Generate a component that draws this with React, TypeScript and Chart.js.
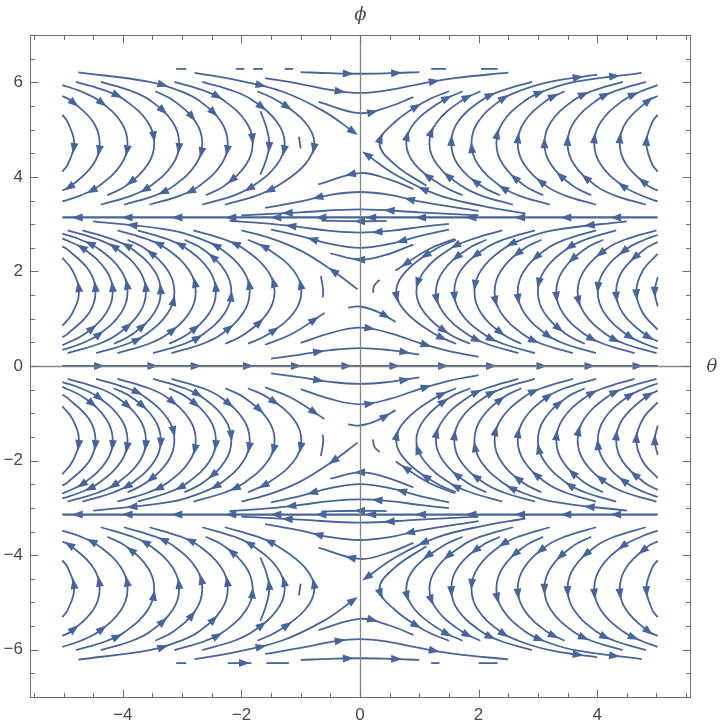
import React, { useEffect, useRef } from "react";
import { Chart, registerables } from "chart.js";
Chart.register(...registerables);

type Pt = [number, number];
type Stream = { p: Pt[]; a: number[]; w?: number };

const xRange = [-5.565, 5.565];
const yRange = [-7, 7];
const xTicks = [-4, -2, 0, 2, 4];
const yTicks = [-6, -4, -2, 0, 2, 4, 6];
const axisLabels = { x: "θ", y: "ϕ" };
const COLOR = "rgb(72,100,152)";

// ---- band pi..2pi, theta > 0 (flow upward) ----
const bandAR: Stream[] = [
  { p: [[1.12,3.81],[0.59,4.26],[0.33,4.71],[0.59,5.16],[1.12,5.61],[1.5,5.81]], a: [2.2,3.7] },
  { p: [[1.73,3.61],[1.39,3.81],[0.93,4.26],[0.78,4.71],[0.93,5.16],[1.39,5.61],[1.73,5.81]], a: [1.5,3.3,5.2] },
  { p: [[2.58,3.41],[2.03,3.61],[1.71,3.81],[1.3,4.26],[1.17,4.71],[1.3,5.16],[1.71,5.61],[2.03,5.81]], a: [2.5,4.5,6.3] },
  { p: [[2.36,3.61],[2.04,3.81],[1.65,4.26],[1.54,4.71],[1.65,5.16],[2.04,5.61],[2.36,5.81],[2.9,6.01]], a: [1.2,3.1,5.5] },
  { p: [[3.2,3.41],[2.67,3.61],[2.36,3.81],[1.99,4.26],[1.88,4.71],[1.99,5.16],[2.36,5.61],[2.67,5.81],[3.2,6.01],[4.0,6.16]], a: [1.8,3.8,6.2,8.6] },
  { p: [[3.09,3.61],[2.78,3.81],[2.41,4.26],[2.3,4.71],[2.41,5.16],[2.78,5.61],[3.09,5.81],[3.62,6.01],[4.75,6.2]], a: [1.4,3.4,5.8,7.6] },
  { p: [[3.98,3.41],[3.45,3.61],[3.14,3.81],[2.77,4.26],[2.66,4.71],[2.77,5.16],[3.14,5.61],[3.45,5.81]], a: [2.2,4.2,6.4] },
  { p: [[3.9,3.61],[3.59,3.81],[3.22,4.26],[3.11,4.71],[3.22,5.16],[3.59,5.61],[3.9,5.81],[4.43,6.01]], a: [1.5,3.0,5.6] },
  { p: [[4.82,3.41],[4.29,3.61],[3.98,3.81],[3.61,4.26],[3.5,4.71],[3.61,5.16],[3.98,5.61],[4.29,5.81],[4.82,6.01]], a: [2.4,4.1,6.5] },
  { p: [[5.02,3.48],[4.74,3.61],[4.43,3.81],[4.06,4.26],[3.95,4.71],[4.06,5.16],[4.43,5.61],[4.74,5.81],[5.02,5.94]], a: [2.0,4.2,6.6] },
  { p: [[5.02,3.71],[4.86,3.81],[4.49,4.26],[4.38,4.71],[4.49,5.16],[4.86,5.61],[5.02,5.71]], a: [1.2,3.2,5.0] },
  { p: [[5.02,4.11],[4.93,4.26],[4.83,4.71],[4.93,5.16],[5.02,5.31]], a: [2.1] },
];

// ---- band pi..2pi, theta < 0 (flow downward) ----
const bandAL: Stream[] = [
  { p: [[-1.73,5.81],[-1.39,5.61],[-0.93,5.16],[-0.77,4.71],[-0.93,4.26],[-1.39,3.81],[-1.73,3.61],[-2.28,3.41]], a: [1.3,3.2,5.4] },
  { p: [[-2.66,6.01],[-2.12,5.81],[-1.8,5.61],[-1.4,5.16],[-1.27,4.71],[-1.4,4.26],[-1.8,3.81],[-2.12,3.61],[-2.66,3.41]], a: [2.3,4.3,6.2] },
  { p: [[-1.68,5.39],[-1.58,5.05],[-1.53,4.71],[-1.58,4.37],[-1.68,4.05]], a: [2.2] },
  { p: [[-3.13,6.01],[-2.6,5.81],[-2.29,5.61],[-1.92,5.16],[-1.81,4.71],[-1.92,4.26],[-2.29,3.81],[-2.6,3.61]], a: [1.6,3.8,5.7] },
  { p: [[-4.75,6.21],[-3.55,6.01],[-3.02,5.81],[-2.71,5.61],[-2.34,5.16],[-2.23,4.71],[-2.34,4.26],[-2.71,3.81],[-3.02,3.61],[-3.55,3.41]], a: [1.4,3.6,5.3,7.5] },
  { p: [[-3.45,5.81],[-3.14,5.61],[-2.77,5.16],[-2.66,4.71],[-2.77,4.26],[-3.14,3.81],[-3.45,3.61],[-3.98,3.41]], a: [1.8,3.4,5.6] },
  { p: [[-4.37,6.01],[-3.84,5.81],[-3.53,5.61],[-3.16,5.16],[-3.05,4.71],[-3.16,4.26],[-3.53,3.81],[-3.84,3.61],[-4.37,3.41]], a: [2.5,4.2,6.3] },
  { p: [[-4.79,6.01],[-4.26,5.81],[-3.95,5.61],[-3.58,5.16],[-3.47,4.71],[-3.58,4.26],[-3.95,3.81],[-4.26,3.61]], a: [1.5,3.7,5.8] },
  { p: [[-5.02,5.94],[-4.71,5.81],[-4.4,5.61],[-4.03,5.16],[-3.92,4.71],[-4.03,4.26],[-4.4,3.81],[-4.71,3.61],[-5.02,3.48]], a: [2.1,4.3,6.4] },
  { p: [[-5.02,5.71],[-4.87,5.61],[-4.5,5.16],[-4.39,4.71],[-4.5,4.26],[-4.87,3.81],[-5.02,3.71]], a: [1.1,3.3,5.2] },
  { p: [[-5.02,5.31],[-4.93,5.16],[-4.82,4.71],[-4.93,4.26],[-5.02,4.11]], a: [2.2] },
  { p: [[-1.03,4.85],[-1.0,4.6]], a: [] },
];

// ---- band pi..2pi, streams crossing theta = 0 ----
const bandAX: Stream[] = [
  { p: [[-1.0,6.216],[-0.5,6.192],[0,6.18],[0.5,6.192],[1.0,6.216]], a: [1.6,3.2] },
  { p: [[-1.6,6.09],[-1.0,5.963],[-0.5,5.838],[0,5.776],[0.5,5.838],[1.0,5.963],[1.6,6.09],[2.5,6.204]], a: [2.3,5.4] },
  { p: [[-0.7,5.587],[0,5.347],[0.5,5.488],[0.9,5.687]], a: [1.4] },
  { p: [[-2.79,6.2],[-2.06,6.04],[-1.3,5.8],[-0.6,5.38],[-0.12,4.96]], a: [1.5,4] },
  { p: [[0.9,3.741],[0.5,3.94],[0,4.08],[-0.7,3.841]], a: [2.2] },
  { p: [[2.0,3.28],[1.0,3.48],[0.5,3.62],[0,3.68],[-0.5,3.62],[-1.0,3.48],[-1.6,3.343]], a: [1.3,4.4] },
  { p: [[2.0,3.186],[1.0,3.251],[0,3.311],[-1.0,3.251],[-2.0,3.186]], a: [1.5,3.2] },
  { p: [[2.79,3.225],[2.06,3.385],[1.3,3.625],[0.6,4.045],[0.12,4.465]], a: [2.3,4] },
  { p: [[-3.1,6.283],[-2.93,6.283]], a: [] },
  { p: [[-2.09,6.283],[-1.95,6.283]], a: [] },
  { p: [[-1.8,6.283],[-1.64,6.283]], a: [] },
  { p: [[-1.27,6.283],[-1.13,6.283]], a: [] },
  { p: [[1.2,6.283],[1.45,6.283]], a: [] },
  { p: [[2.04,6.283],[2.32,6.283]], a: [] },
];

// ---- band 0..pi, theta > 0 (flow downward) ----
const bandBR: Stream[] = [
  { p: [[1.62,2.67],[1.27,2.47],[0.79,2.02],[0.61,1.57],[0.79,1.12],[1.27,0.67],[1.62,0.47]], a: [1.3,3.2,5.3] },
  { p: [[2.4,2.87],[1.86,2.67],[1.51,2.47],[1.09,2.02],[0.95,1.57],[1.09,1.12],[1.51,0.67],[1.86,0.47]], a: [1.7,3.6,5.8] },
  { p: [[2.13,2.67],[1.81,2.47],[1.41,2.02],[1.28,1.57],[1.41,1.12],[1.81,0.67],[2.13,0.47],[2.67,0.27]], a: [1.4,3.3,5.5] },
  { p: [[2.95,2.87],[2.41,2.67],[2.09,2.47],[1.7,2.02],[1.59,1.57],[1.7,1.12],[2.09,0.67],[2.41,0.47],[2.95,0.27]], a: [2.3,4.2,6.4] },
  { p: [[4.5,3.06],[3.25,2.87],[2.72,2.67],[2.41,2.47],[2.04,2.02],[1.93,1.57],[2.04,1.12],[2.41,0.67],[2.72,0.47]], a: [0.5,2.5,4.7,6.9] },
  { p: [[3.06,2.67],[2.75,2.47],[2.38,2.02],[2.27,1.57],[2.38,1.12],[2.75,0.67],[3.06,0.47],[3.59,0.27]], a: [1.2,3.4,5.6] },
  { p: [[3.98,2.87],[3.45,2.67],[3.14,2.47],[2.77,2.02],[2.66,1.57],[2.77,1.12],[3.14,0.67],[3.45,0.47],[3.98,0.27]], a: [2.4,4.3,6.1] },
  { p: [[4.32,2.87],[3.79,2.67],[3.48,2.47],[3.11,2.02],[3.0,1.57],[3.11,1.12],[3.48,0.67],[3.79,0.47]], a: [1.8,3.6,5.7] },
  { p: [[4.1,2.67],[3.79,2.47],[3.42,2.02],[3.31,1.57],[3.42,1.12],[3.79,0.67],[4.1,0.47],[4.63,0.27]], a: [1.5,3.2,5.4] },
  { p: [[5.0,2.87],[4.46,2.67],[4.15,2.47],[3.78,2.02],[3.67,1.57],[3.78,1.12],[4.15,0.67],[4.46,0.47],[5.0,0.27]], a: [2.2,4.4,6.5] },
  { p: [[5.02,2.77],[4.8,2.67],[4.49,2.47],[4.12,2.02],[4.01,1.57],[4.12,1.12],[4.49,0.67],[4.8,0.47],[5.02,0.37]], a: [2.1,3.8,6.2] },
  { p: [[5.02,2.62],[4.8,2.47],[4.43,2.02],[4.32,1.57],[4.43,1.12],[4.8,0.67],[5.02,0.52]], a: [1.4,3.2,5.3] },
  { p: [[5.02,2.37],[4.77,2.02],[4.66,1.57],[4.77,1.12],[5.02,0.77]], a: [2.1] },
  { p: [[5.02,1.88],[4.97,1.57],[5.02,1.26]], a: [1] },
  { p: [[0.33,1.82],[0.24,1.7],[0.22,1.55]], a: [] },
];

// ---- band 0..pi, theta < 0 (flow upward) ----
const bandBL: Stream[] = [
  { p: [[-1.89,0.47],[-1.55,0.67],[-1.12,1.12],[-0.99,1.57],[-1.12,2.02],[-1.55,2.47],[-1.89,2.67]], a: [1.2,3.3,5.2] },
  { p: [[-2.27,0.47],[-1.95,0.67],[-1.56,1.12],[-1.44,1.57],[-1.56,2.02],[-1.95,2.47],[-2.27,2.67],[-2.81,2.87]], a: [1.6,3.4,5.5] },
  { p: [[-3.18,0.27],[-2.65,0.47],[-2.34,0.67],[-1.97,1.12],[-1.86,1.57],[-1.97,2.02],[-2.34,2.47],[-2.65,2.67],[-3.18,2.87],[-4.5,3.06]], a: [2.3,4.3,6.3,8.5] },
  { p: [[-3.49,0.27],[-2.96,0.47],[-2.65,0.67],[-2.28,1.12],[-2.17,1.57],[-2.28,2.02],[-2.65,2.47],[-2.96,2.67]], a: [1.7,3.8,5.6] },
  { p: [[-3.22,0.47],[-2.91,0.67],[-2.54,1.12],[-2.43,1.57],[-2.54,2.02],[-2.91,2.47],[-3.22,2.67],[-3.75,2.87]], a: [1.3,3.2,5.4] },
  { p: [[-4.09,0.27],[-3.56,0.47],[-3.25,0.67],[-2.88,1.12],[-2.77,1.57],[-2.88,2.02],[-3.25,2.47],[-3.56,2.67],[-4.09,2.87]], a: [2.2,4.4,6.5] },
  { p: [[-4.45,0.27],[-3.92,0.47],[-3.61,0.67],[-3.24,1.12],[-3.13,1.57],[-3.24,2.02],[-3.61,2.47],[-3.92,2.67]], a: [1.5,3.6,5.8] },
  { p: [[-4.15,0.47],[-3.84,0.67],[-3.47,1.12],[-3.36,1.57],[-3.47,2.02],[-3.84,2.47],[-4.15,2.67],[-4.68,2.87]], a: [1.4,3.1,5.3] },
  { p: [[-4.93,0.27],[-4.4,0.47],[-4.09,0.67],[-3.72,1.12],[-3.61,1.57],[-3.72,2.02],[-4.09,2.47],[-4.4,2.67],[-4.93,2.87]], a: [2.4,4.2,6.2] },
  { p: [[-5.02,0.34],[-4.71,0.47],[-4.4,0.67],[-4.03,1.12],[-3.92,1.57],[-4.03,2.02],[-4.4,2.47],[-4.71,2.67],[-5.02,2.8]], a: [2.0,4.3,6.5] },
  { p: [[-5.02,0.44],[-4.65,0.67],[-4.28,1.12],[-4.17,1.57],[-4.28,2.02],[-4.65,2.47],[-5.02,2.7]], a: [1.3,3.2,5.1] },
  { p: [[-5.02,0.61],[-4.94,0.67],[-4.57,1.12],[-4.46,1.57],[-4.57,2.02],[-4.94,2.47],[-5.02,2.53]], a: [3.2] },
  { p: [[-5.02,0.85],[-4.85,1.12],[-4.74,1.57],[-4.85,2.02],[-5.02,2.29]], a: [2.2] },
  { p: [[-0.63,1.45],[-0.62,1.6],[-0.66,1.9]], a: [] },
];

// ---- band 0..pi, streams crossing theta = 0 ----
const bandBX: Stream[] = [
  { p: [[0.45,3.07],[0,3.061],[-0.65,3.075]], a: [1] },
  { p: [[1.5,3.007],[1.0,2.936],[0.5,2.858],[0,2.821],[-0.5,2.858],[-1.0,2.936],[-1.5,3.007],[-2.2,3.072]], a: [2.4,5.3] },
  { p: [[1.5,2.885],[1.0,2.744],[0.5,2.583],[0,2.5],[-0.5,2.583],[-1.0,2.744],[-1.5,2.885]], a: [1.6,4.6] },
  { p: [[0.9,2.568],[0.4,2.338],[0,2.25],[-0.5,2.381]], a: [2] },
  { p: [[-0.2,1.235],[0,1.258],[0.3,1.145],[0.6,0.933]], a: [2.4] },
  { p: [[-1.0,0.4885],[-0.5,0.697],[0,0.81],[0.5,0.697],[1.0,0.4885],[1.5,0.3128],[2.0,0.1936]], a: [2.3,4.2] },
  { p: [[-1.5,0.158],[-1.0,0.2428],[-0.5,0.3353],[0,0.38],[0.5,0.3353],[1.0,0.2428]], a: [1.6,4.5] },
  { p: [[-1.6,0.45],[-1.16,0.67],[-0.6,1.12]], a: [1.7] },
  { p: [[-0.04,1.62],[-0.5,2.05],[-1.0,2.44],[-1.5,2.7],[-2.0,2.87]], a: [0.9] },
  { p: [[1.6,2.69],[1.16,2.47],[0.6,2.02]], a: [1.7] },
];

// ---- band -pi..0, theta > 0 (flow upward) ----
const bandCR: Stream[] = [
  { p: [[1.62,-2.67],[1.27,-2.47],[0.79,-2.02],[0.61,-1.57],[0.79,-1.12],[1.27,-0.67],[1.62,-0.47]], a: [1.3,3.2,5.3] },
  { p: [[2.4,-2.87],[1.86,-2.67],[1.51,-2.47],[1.09,-2.02],[0.95,-1.57],[1.09,-1.12],[1.51,-0.67],[1.86,-0.47]], a: [1.7,3.6,5.8] },
  { p: [[2.13,-2.67],[1.81,-2.47],[1.41,-2.02],[1.28,-1.57],[1.41,-1.12],[1.81,-0.67],[2.13,-0.47],[2.67,-0.27]], a: [1.4,3.3,5.5] },
  { p: [[2.95,-2.87],[2.41,-2.67],[2.09,-2.47],[1.7,-2.02],[1.59,-1.57],[1.7,-1.12],[2.09,-0.67],[2.41,-0.47],[2.95,-0.27]], a: [2.3,4.2,6.4] },
  { p: [[4.5,-3.06],[3.25,-2.87],[2.72,-2.67],[2.41,-2.47],[2.04,-2.02],[1.93,-1.57],[2.04,-1.12],[2.41,-0.67],[2.72,-0.47]], a: [0.5,2.5,4.7,6.9] },
  { p: [[3.06,-2.67],[2.75,-2.47],[2.38,-2.02],[2.27,-1.57],[2.38,-1.12],[2.75,-0.67],[3.06,-0.47],[3.59,-0.27]], a: [1.2,3.4,5.6] },
  { p: [[3.98,-2.87],[3.45,-2.67],[3.14,-2.47],[2.77,-2.02],[2.66,-1.57],[2.77,-1.12],[3.14,-0.67],[3.45,-0.47],[3.98,-0.27]], a: [2.4,4.3,6.1] },
  { p: [[4.32,-2.87],[3.79,-2.67],[3.48,-2.47],[3.11,-2.02],[3.0,-1.57],[3.11,-1.12],[3.48,-0.67],[3.79,-0.47]], a: [1.8,3.6,5.7] },
  { p: [[4.1,-2.67],[3.79,-2.47],[3.42,-2.02],[3.31,-1.57],[3.42,-1.12],[3.79,-0.67],[4.1,-0.47],[4.63,-0.27]], a: [1.5,3.2,5.4] },
  { p: [[5.0,-2.87],[4.46,-2.67],[4.15,-2.47],[3.78,-2.02],[3.67,-1.57],[3.78,-1.12],[4.15,-0.67],[4.46,-0.47],[5.0,-0.27]], a: [2.2,4.4,6.5] },
  { p: [[5.02,-2.77],[4.8,-2.67],[4.49,-2.47],[4.12,-2.02],[4.01,-1.57],[4.12,-1.12],[4.49,-0.67],[4.8,-0.47],[5.02,-0.37]], a: [2.1,3.8,6.2] },
  { p: [[5.02,-2.62],[4.8,-2.47],[4.43,-2.02],[4.32,-1.57],[4.43,-1.12],[4.8,-0.67],[5.02,-0.52]], a: [1.4,3.2,5.3] },
  { p: [[5.02,-2.37],[4.77,-2.02],[4.66,-1.57],[4.77,-1.12],[5.02,-0.77]], a: [2.1] },
  { p: [[5.02,-1.88],[4.97,-1.57],[5.02,-1.26]], a: [1] },
  { p: [[0.33,-1.82],[0.24,-1.7],[0.22,-1.55]], a: [] },
];

// ---- band -pi..0, theta < 0 (flow downward) ----
const bandCL: Stream[] = [
  { p: [[-1.89,-0.47],[-1.55,-0.67],[-1.12,-1.12],[-0.99,-1.57],[-1.12,-2.02],[-1.55,-2.47],[-1.89,-2.67]], a: [1.2,3.3,5.2] },
  { p: [[-2.27,-0.47],[-1.95,-0.67],[-1.56,-1.12],[-1.44,-1.57],[-1.56,-2.02],[-1.95,-2.47],[-2.27,-2.67],[-2.81,-2.87]], a: [1.6,3.4,5.5] },
  { p: [[-3.18,-0.27],[-2.65,-0.47],[-2.34,-0.67],[-1.97,-1.12],[-1.86,-1.57],[-1.97,-2.02],[-2.34,-2.47],[-2.65,-2.67],[-3.18,-2.87],[-4.5,-3.06]], a: [2.3,4.3,6.3,8.5] },
  { p: [[-3.49,-0.27],[-2.96,-0.47],[-2.65,-0.67],[-2.28,-1.12],[-2.17,-1.57],[-2.28,-2.02],[-2.65,-2.47],[-2.96,-2.67]], a: [1.7,3.8,5.6] },
  { p: [[-3.22,-0.47],[-2.91,-0.67],[-2.54,-1.12],[-2.43,-1.57],[-2.54,-2.02],[-2.91,-2.47],[-3.22,-2.67],[-3.75,-2.87]], a: [1.3,3.2,5.4] },
  { p: [[-4.09,-0.27],[-3.56,-0.47],[-3.25,-0.67],[-2.88,-1.12],[-2.77,-1.57],[-2.88,-2.02],[-3.25,-2.47],[-3.56,-2.67],[-4.09,-2.87]], a: [2.2,4.4,6.5] },
  { p: [[-4.45,-0.27],[-3.92,-0.47],[-3.61,-0.67],[-3.24,-1.12],[-3.13,-1.57],[-3.24,-2.02],[-3.61,-2.47],[-3.92,-2.67]], a: [1.5,3.6,5.8] },
  { p: [[-4.15,-0.47],[-3.84,-0.67],[-3.47,-1.12],[-3.36,-1.57],[-3.47,-2.02],[-3.84,-2.47],[-4.15,-2.67],[-4.68,-2.87]], a: [1.4,3.1,5.3] },
  { p: [[-4.93,-0.27],[-4.4,-0.47],[-4.09,-0.67],[-3.72,-1.12],[-3.61,-1.57],[-3.72,-2.02],[-4.09,-2.47],[-4.4,-2.67],[-4.93,-2.87]], a: [2.4,4.2,6.2] },
  { p: [[-5.02,-0.34],[-4.71,-0.47],[-4.4,-0.67],[-4.03,-1.12],[-3.92,-1.57],[-4.03,-2.02],[-4.4,-2.47],[-4.71,-2.67],[-5.02,-2.8]], a: [2.0,4.3,6.5] },
  { p: [[-5.02,-0.44],[-4.65,-0.67],[-4.28,-1.12],[-4.17,-1.57],[-4.28,-2.02],[-4.65,-2.47],[-5.02,-2.7]], a: [1.3,3.2,5.1] },
  { p: [[-5.02,-0.61],[-4.94,-0.67],[-4.57,-1.12],[-4.46,-1.57],[-4.57,-2.02],[-4.94,-2.47],[-5.02,-2.53]], a: [3.2] },
  { p: [[-5.02,-0.85],[-4.85,-1.12],[-4.74,-1.57],[-4.85,-2.02],[-5.02,-2.29]], a: [2.2] },
  { p: [[-0.63,-1.45],[-0.62,-1.6],[-0.66,-1.9]], a: [] },
];

// ---- band -pi..0, streams crossing theta = 0 ----
const bandCX: Stream[] = [
  { p: [[0.45,-3.07],[0,-3.061],[-0.65,-3.075]], a: [1] },
  { p: [[1.5,-3.007],[1.0,-2.936],[0.5,-2.858],[0,-2.821],[-0.5,-2.858],[-1.0,-2.936],[-1.5,-3.007],[-2.2,-3.072]], a: [2.4,5.3] },
  { p: [[1.5,-2.885],[1.0,-2.744],[0.5,-2.583],[0,-2.5],[-0.5,-2.583],[-1.0,-2.744],[-1.5,-2.885]], a: [1.6,4.6] },
  { p: [[0.9,-2.568],[0.4,-2.338],[0,-2.25],[-0.5,-2.381]], a: [2] },
  { p: [[-0.2,-1.235],[0,-1.258],[0.3,-1.145],[0.6,-0.933]], a: [2.4] },
  { p: [[-1.0,-0.4885],[-0.5,-0.697],[0,-0.81],[0.5,-0.697],[1.0,-0.4885],[1.5,-0.3128],[2.0,-0.1936]], a: [2.3,4.2] },
  { p: [[-1.5,-0.158],[-1.0,-0.2428],[-0.5,-0.3353],[0,-0.38],[0.5,-0.3353],[1.0,-0.2428]], a: [1.6,4.5] },
  { p: [[-1.6,-0.45],[-1.16,-0.67],[-0.6,-1.12]], a: [1.7] },
  { p: [[-0.04,-1.62],[-0.5,-2.05],[-1.0,-2.44],[-1.5,-2.7],[-2.0,-2.87]], a: [0.9] },
  { p: [[1.6,-2.69],[1.16,-2.47],[0.6,-2.02]], a: [1.7] },
];

// ---- band -2pi..-pi, theta > 0 (flow downward) ----
const bandDR: Stream[] = [
  { p: [[1.12,-3.81],[0.59,-4.26],[0.33,-4.71],[0.59,-5.16],[1.12,-5.61],[1.5,-5.81]], a: [2.2,3.7] },
  { p: [[1.73,-3.61],[1.39,-3.81],[0.93,-4.26],[0.78,-4.71],[0.93,-5.16],[1.39,-5.61],[1.73,-5.81]], a: [1.5,3.3,5.2] },
  { p: [[2.58,-3.41],[2.03,-3.61],[1.71,-3.81],[1.3,-4.26],[1.17,-4.71],[1.3,-5.16],[1.71,-5.61],[2.03,-5.81]], a: [2.5,4.5,6.3] },
  { p: [[2.36,-3.61],[2.04,-3.81],[1.65,-4.26],[1.54,-4.71],[1.65,-5.16],[2.04,-5.61],[2.36,-5.81],[2.9,-6.01]], a: [1.2,3.1,5.5] },
  { p: [[3.2,-3.41],[2.67,-3.61],[2.36,-3.81],[1.99,-4.26],[1.88,-4.71],[1.99,-5.16],[2.36,-5.61],[2.67,-5.81],[3.2,-6.01],[4.0,-6.16]], a: [1.8,3.8,6.2,8.6] },
  { p: [[3.09,-3.61],[2.78,-3.81],[2.41,-4.26],[2.3,-4.71],[2.41,-5.16],[2.78,-5.61],[3.09,-5.81],[3.62,-6.01],[4.75,-6.2]], a: [1.4,3.4,5.8,7.6] },
  { p: [[3.98,-3.41],[3.45,-3.61],[3.14,-3.81],[2.77,-4.26],[2.66,-4.71],[2.77,-5.16],[3.14,-5.61],[3.45,-5.81]], a: [2.2,4.2,6.4] },
  { p: [[3.9,-3.61],[3.59,-3.81],[3.22,-4.26],[3.11,-4.71],[3.22,-5.16],[3.59,-5.61],[3.9,-5.81],[4.43,-6.01]], a: [1.5,3.0,5.6] },
  { p: [[4.82,-3.41],[4.29,-3.61],[3.98,-3.81],[3.61,-4.26],[3.5,-4.71],[3.61,-5.16],[3.98,-5.61],[4.29,-5.81],[4.82,-6.01]], a: [2.4,4.1,6.5] },
  { p: [[5.02,-3.48],[4.74,-3.61],[4.43,-3.81],[4.06,-4.26],[3.95,-4.71],[4.06,-5.16],[4.43,-5.61],[4.74,-5.81],[5.02,-5.94]], a: [2.0,4.2,6.6] },
  { p: [[5.02,-3.71],[4.86,-3.81],[4.49,-4.26],[4.38,-4.71],[4.49,-5.16],[4.86,-5.61],[5.02,-5.71]], a: [1.2,3.2,5.0] },
  { p: [[5.02,-4.11],[4.93,-4.26],[4.83,-4.71],[4.93,-5.16],[5.02,-5.31]], a: [2.1] },
];

// ---- band -2pi..-pi, theta < 0 (flow upward) ----
const bandDL: Stream[] = [
  { p: [[-1.73,-5.81],[-1.39,-5.61],[-0.93,-5.16],[-0.77,-4.71],[-0.93,-4.26],[-1.39,-3.81],[-1.73,-3.61],[-2.28,-3.41]], a: [1.3,3.2,5.4] },
  { p: [[-2.66,-6.01],[-2.12,-5.81],[-1.8,-5.61],[-1.4,-5.16],[-1.27,-4.71],[-1.4,-4.26],[-1.8,-3.81],[-2.12,-3.61],[-2.66,-3.41]], a: [2.3,4.3,6.2] },
  { p: [[-1.68,-5.39],[-1.58,-5.05],[-1.53,-4.71],[-1.58,-4.37],[-1.68,-4.05]], a: [2.2] },
  { p: [[-3.13,-6.01],[-2.6,-5.81],[-2.29,-5.61],[-1.92,-5.16],[-1.81,-4.71],[-1.92,-4.26],[-2.29,-3.81],[-2.6,-3.61]], a: [1.6,3.8,5.7] },
  { p: [[-4.75,-6.21],[-3.55,-6.01],[-3.02,-5.81],[-2.71,-5.61],[-2.34,-5.16],[-2.23,-4.71],[-2.34,-4.26],[-2.71,-3.81],[-3.02,-3.61],[-3.55,-3.41]], a: [1.4,3.6,5.3,7.5] },
  { p: [[-3.45,-5.81],[-3.14,-5.61],[-2.77,-5.16],[-2.66,-4.71],[-2.77,-4.26],[-3.14,-3.81],[-3.45,-3.61],[-3.98,-3.41]], a: [1.8,3.4,5.6] },
  { p: [[-4.37,-6.01],[-3.84,-5.81],[-3.53,-5.61],[-3.16,-5.16],[-3.05,-4.71],[-3.16,-4.26],[-3.53,-3.81],[-3.84,-3.61],[-4.37,-3.41]], a: [2.5,4.2,6.3] },
  { p: [[-4.79,-6.01],[-4.26,-5.81],[-3.95,-5.61],[-3.58,-5.16],[-3.47,-4.71],[-3.58,-4.26],[-3.95,-3.81],[-4.26,-3.61]], a: [1.5,3.7,5.8] },
  { p: [[-5.02,-5.94],[-4.71,-5.81],[-4.4,-5.61],[-4.03,-5.16],[-3.92,-4.71],[-4.03,-4.26],[-4.4,-3.81],[-4.71,-3.61],[-5.02,-3.48]], a: [2.1,4.3,6.4] },
  { p: [[-5.02,-5.71],[-4.87,-5.61],[-4.5,-5.16],[-4.39,-4.71],[-4.5,-4.26],[-4.87,-3.81],[-5.02,-3.71]], a: [1.1,3.3,5.2] },
  { p: [[-5.02,-5.31],[-4.93,-5.16],[-4.82,-4.71],[-4.93,-4.26],[-5.02,-4.11]], a: [2.2] },
  { p: [[-1.03,-4.85],[-1.0,-4.6]], a: [] },
];

// ---- band -2pi..-pi, streams crossing theta = 0 ----
const bandDX: Stream[] = [
  { p: [[-1.0,-6.216],[-0.5,-6.192],[0,-6.18],[0.5,-6.192],[1.0,-6.216]], a: [1.6,3.2] },
  { p: [[-1.6,-6.09],[-1.0,-5.963],[-0.5,-5.838],[0,-5.776],[0.5,-5.838],[1.0,-5.963],[1.6,-6.09],[2.5,-6.204]], a: [2.3,5.4] },
  { p: [[-0.7,-5.587],[0,-5.347],[0.5,-5.488],[0.9,-5.687]], a: [1.4] },
  { p: [[-2.79,-6.2],[-2.06,-6.04],[-1.3,-5.8],[-0.6,-5.38],[-0.12,-4.96]], a: [1.5,4] },
  { p: [[0.9,-3.741],[0.5,-3.94],[0,-4.08],[-0.7,-3.841]], a: [2.2] },
  { p: [[2.0,-3.28],[1.0,-3.48],[0.5,-3.62],[0,-3.68],[-0.5,-3.62],[-1.0,-3.48],[-1.6,-3.343]], a: [1.3,4.4] },
  { p: [[2.0,-3.186],[1.0,-3.251],[0,-3.311],[-1.0,-3.251],[-2.0,-3.186]], a: [1.5,3.2] },
  { p: [[2.79,-3.225],[2.06,-3.385],[1.3,-3.625],[0.6,-4.045],[0.12,-4.465]], a: [2.3,4] },
  { p: [[-2.23,-6.283],[-1.83,-6.283]], a: [0.7] },
  { p: [[-1.58,-6.283],[-1.2,-6.283]], a: [] },
  { p: [[-3.1,-6.283],[-2.93,-6.283]], a: [] },
  { p: [[1.2,-6.283],[1.34,-6.283]], a: [] },
  { p: [[2.0,-6.283],[2.32,-6.283]], a: [] },
];

// ---- invariant horizontal lines (phi = pi, -pi, 0) ----
const piLineTheta = [5.02, 4.32, 3.48, 2.7, 1.88, 1.03, 0.19, -0.65, -1.41, -2.17, -3.08, -3.92, -4.76, -5.02];
const zeroLineTheta = [-5.02, -4.4, -3.5, -2.77, -1.89, -1.08, -0.23, 0.58, 1.4, 2.21, 3.06, 3.87, 4.68, 5.02];
const lineArrows = [1, 2, 3, 4, 5, 6, 7, 8, 9, 10, 11, 12];
const lines: Stream[] = [
  { p: piLineTheta.map((t) => [t, 3.1416] as Pt), a: lineArrows, w: 2.2 },
  { p: piLineTheta.map((t) => [t, -3.1416] as Pt), a: lineArrows, w: 2.2 },
  { p: zeroLineTheta.map((t) => [t, 0] as Pt), a: lineArrows, w: 2 },
];

const allStreams: Stream[] = [
  ...bandAR, ...bandAL, ...bandAX,
  ...bandBR, ...bandBL, ...bandBX,
  ...bandCR, ...bandCL, ...bandCX,
  ...bandDR, ...bandDL, ...bandDX,
  ...lines,
];

const fmt = (v: number) => (v < 0 ? "\u2212" + Math.abs(v) : String(v));

// position + tangent on the drawn (bezier) path at fractional index f
function pathAt(pts: any[], f: number) {
  const n = pts.length;
  const i = Math.max(0, Math.min(n - 1, Math.floor(f)));
  const t = f - i;
  if (t < 1e-6 || i >= n - 1) {
    const p = pts[i];
    const a = pts[Math.max(0, i - 1)];
    const b = pts[Math.min(n - 1, i + 1)];
    return { x: p.x, y: p.y, dx: b.x - a.x, dy: b.y - a.y };
  }
  const P0 = pts[i], P3 = pts[i + 1];
  const c1x = P0.cp2x ?? P0.x, c1y = P0.cp2y ?? P0.y;
  const c2x = P3.cp1x ?? P3.x, c2y = P3.cp1y ?? P3.y;
  const u = 1 - t;
  const x = u * u * u * P0.x + 3 * u * u * t * c1x + 3 * u * t * t * c2x + t * t * t * P3.x;
  const y = u * u * u * P0.y + 3 * u * u * t * c1y + 3 * u * t * t * c2y + t * t * t * P3.y;
  const dx = 3 * u * u * (c1x - P0.x) + 6 * u * t * (c2x - c1x) + 3 * t * t * (P3.x - c2x);
  const dy = 3 * u * u * (c1y - P0.y) + 6 * u * t * (c2y - c1y) + 3 * t * t * (P3.y - c2y);
  return { x, y, dx, dy };
}

const arrowPlugin = {
  id: "streamArrows",
  afterDatasetsDraw(chart: any) {
    const ctx = chart.ctx;
    ctx.save();
    ctx.fillStyle = COLOR;
    chart.data.datasets.forEach((ds: any, i: number) => {
      const pts = chart.getDatasetMeta(i).data;
      (ds.arrows || []).forEach((f: number) => {
        if (!pts.length) return;
        const q = pathAt(pts, f);
        const L = Math.hypot(q.dx, q.dy) || 1;
        const dx = q.dx / L, dy = q.dy / L;
        const tx = q.x + dx * 6, ty = q.y + dy * 6;
        const bx = q.x - dx * 5, by = q.y - dy * 5;
        ctx.beginPath();
        ctx.moveTo(tx, ty);
        ctx.lineTo(bx - dy * 4, by + dx * 4);
        ctx.lineTo(bx + dy * 4, by - dx * 4);
        ctx.closePath();
        ctx.fill();
      });
    });
    ctx.restore();
  },
};

const framePlugin = {
  id: "frameAxes",
  afterDraw(chart: any) {
    const { ctx, chartArea } = chart;
    const { left, right, top, bottom } = chartArea;
    const xs = chart.scales.x, ys = chart.scales.y;
    ctx.save();
    const x0 = Math.round(xs.getPixelForValue(0)) + 0.5;
    const y0 = Math.round(ys.getPixelForValue(0)) + 0.5;
    ctx.strokeStyle = "rgba(128,128,128,0.95)";
    ctx.lineWidth = 1.3;
    ctx.beginPath();
    ctx.moveTo(x0, top); ctx.lineTo(x0, bottom);
    ctx.moveTo(left, y0); ctx.lineTo(right, y0);
    ctx.stroke();
    ctx.strokeStyle = "#6e6e6e";
    ctx.lineWidth = 1;
    ctx.strokeRect(left + 0.5, top + 0.5, right - left, bottom - top);
    ctx.beginPath();
    for (let v = -5.5; v <= 5.51; v += 0.5) {
      const major = xTicks.includes(Math.round(v * 10) / 10);
      const len = major ? 8 : 4.5;
      const px = Math.round(xs.getPixelForValue(v)) + 0.5;
      ctx.moveTo(px, bottom + 0.5); ctx.lineTo(px, bottom + 0.5 - len);
      ctx.moveTo(px, top + 0.5); ctx.lineTo(px, top + 0.5 + len);
    }
    for (let v = -6.5; v <= 6.51; v += 0.5) {
      const major = yTicks.includes(Math.round(v * 10) / 10);
      const len = major ? 8 : 4.5;
      const py = Math.round(ys.getPixelForValue(v)) + 0.5;
      ctx.moveTo(left + 0.5, py); ctx.lineTo(left + 0.5 + len, py);
      ctx.moveTo(right + 0.5, py); ctx.lineTo(right + 0.5 - len, py);
    }
    ctx.stroke();
    ctx.fillStyle = "#4a4a4a";
    ctx.font = '17px "Liberation Sans", Arial, sans-serif';
    ctx.textAlign = "center";
    ctx.textBaseline = "middle";
    xTicks.forEach((t) => ctx.fillText(fmt(t), xs.getPixelForValue(t), bottom + 18));
    ctx.textAlign = "right";
    yTicks.forEach((t) => ctx.fillText(fmt(t), left - 7, ys.getPixelForValue(t)));
    ctx.font = 'italic 18px "DejaVu Serif", serif';
    ctx.textAlign = "center";
    ctx.fillText(axisLabels.y, x0, 15);
    ctx.fillText(axisLabels.x, 712, y0 + 1);
    ctx.restore();
  },
};

export default function App() {
  const ref = useRef<HTMLCanvasElement>(null);
  useEffect(() => {
    const canvas = ref.current;
    if (!canvas) return;
    const chart = new Chart(canvas, {
      type: "scatter",
      data: {
        datasets: allStreams.map((s) => ({
          data: s.p.map(([x, y]) => ({ x, y })),
          arrows: s.a,
          showLine: true,
          borderColor: COLOR,
          backgroundColor: COLOR,
          borderWidth: s.w ?? 1.8,
          pointRadius: 0,
          pointHoverRadius: 0,
          tension: 0.4,
          fill: false,
        })) as any,
      },
      options: {
        responsive: false,
        animation: false,
        events: [],
        layout: { padding: { left: 30, top: 35, right: 30, bottom: 30 } },
        plugins: { legend: { display: false }, tooltip: { enabled: false } },
        scales: {
          x: { type: "linear", min: xRange[0], max: xRange[1], display: false },
          y: { type: "linear", min: yRange[0], max: yRange[1], display: false },
        },
      },
      plugins: [arrowPlugin, framePlugin],
    });
    return () => chart.destroy();
  }, []);
  return (
    <div style={{ position: "fixed", left: 0, top: 0, width: 720, height: 727, background: "#fff" }}>
      <canvas ref={ref} width={720} height={727} style={{ display: "block", width: 720, height: 727 }} />
    </div>
  );
}
